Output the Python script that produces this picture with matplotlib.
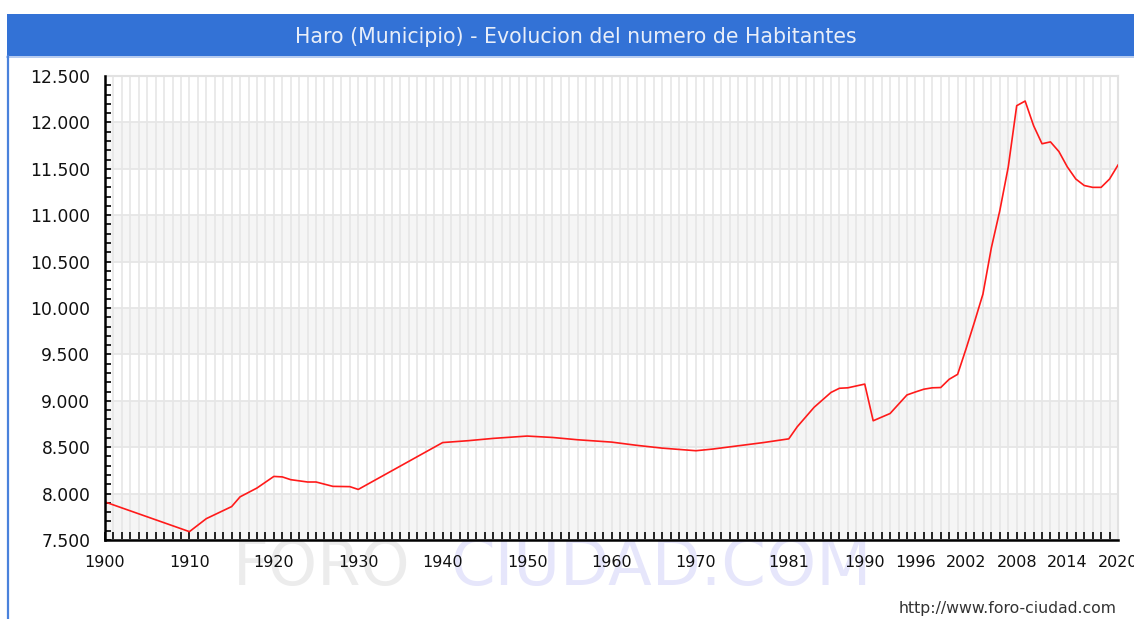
import matplotlib
matplotlib.use("Agg")
import matplotlib.pyplot as plt
import numpy as np
from matplotlib.patches import Rectangle
from matplotlib.lines import Line2D
from matplotlib.ticker import FuncFormatter, MultipleLocator

# Population of Haro
years = [1900, 1910, 1912, 1915, 1916, 1918, 1920, 1921, 1922, 1924, 1925, 1927,
         1929, 1930, 1940, 1943, 1946, 1950, 1953, 1956, 1960, 1963, 1966, 1970,
         1972, 1975, 1978, 1981, 1982, 1984, 1986, 1987, 1988, 1990, 1991, 1993,
         1995, 1996, 1997, 1998, 1999, 2000, 2001, 2002, 2003, 2004, 2005, 2006,
         2007, 2008, 2009, 2010, 2011, 2012, 2013, 2014, 2015, 2016, 2017, 2018,
         2019, 2020]
habitantes = [7910, 7590, 7730, 7860, 7965, 8060, 8185, 8180, 8150, 8125, 8125, 8078,
              8075, 8045, 8550, 8570, 8595, 8620, 8605, 8580, 8555, 8520, 8490, 8462,
              8480, 8515, 8550, 8590, 8720, 8930, 9090, 9135, 9140, 9180, 8785, 8863,
              9063, 9095, 9125, 9140, 9143, 9232, 9285, 9560, 9850, 10150, 10650, 11050,
              11520, 12180, 12230, 11965, 11770, 11790, 11686, 11520, 11390, 11320, 11300, 11300,
              11390, 11540]

tick_years = [1900, 1910, 1920, 1930, 1940, 1950, 1960, 1970, 1981, 1990, 1996, 2002, 2008, 2014, 2020]
titulo = "Haro (Municipio) - Evolucion del numero de Habitantes"

W, H = 1134, 619
fig = plt.figure(figsize=(W / 100, H / 100), dpi=100)
fig.patch.set_facecolor("white")

# blue header bar
fig.patches.append(Rectangle((7 / W, (H - 56) / H), 1 - 7 / W, 42 / H,
                             transform=fig.transFigure, facecolor="#3372d6",
                             edgecolor="none", zorder=0))
fig.lines.append(Line2D([7 / W, 1], [(H - 56.5) / H] * 2, transform=fig.transFigure,
                        color="#a9c2ee", lw=1.2))
fig.lines.append(Line2D([7.5 / W] * 2, [0, (H - 56) / H], transform=fig.transFigure,
                        color="#4a82dc", lw=1.6))
fig.text(576 / W, (H - 37) / H, titulo, ha="center", va="center",
         fontsize=14.8, color="#e8eef9", family="DejaVu Sans")

ax = fig.add_axes([105 / W, (H - 540) / H, (1118 - 105) / W, (540 - 76) / H])
ax.set_facecolor("white")

# alternating bands
for y0 in np.arange(7500, 12500, 1000):
    ax.axhspan(y0, y0 + 500, color="#f5f5f5", zorder=0, lw=0)

ax.plot(years, habitantes, color="#ff1a1a", lw=1.2, zorder=3)

ax.set_xlim(1900, 2020)
ax.set_ylim(7500, 12500)
ax.set_xticks(tick_years)
ax.set_xticklabels([str(y) for y in tick_years])
ax.xaxis.set_minor_locator(MultipleLocator(1))
ax.yaxis.set_major_locator(MultipleLocator(500))
ax.yaxis.set_minor_locator(MultipleLocator(100))
ax.yaxis.set_major_formatter(FuncFormatter(lambda v, p: f"{v:,.0f}".replace(",", ".")))

ax.grid(True, which="major", axis="y", color="#e6e6e6", lw=1.3, zorder=1)
ax.grid(True, which="minor", axis="x", color="#e6e6e6", lw=1.2, zorder=1)
ax.grid(True, which="major", axis="x", color="#e6e6e6", lw=1.2, zorder=1)
ax.set_axisbelow(True)

ax.tick_params(axis="x", which="both", direction="in", length=5.5, width=1.2,
               color="black", labelsize=11.5, pad=10.5)
ax.tick_params(axis="y", which="both", direction="in", length=4.5, width=1.2,
               color="black", labelsize=12.3, pad=10.5)
for lab in ax.get_xticklabels() + ax.get_yticklabels():
    lab.set_color("#111111")

for s in ["left", "bottom"]:
    ax.spines[s].set_color("black")
    ax.spines[s].set_linewidth(1.8)
    ax.spines[s].set_zorder(4)
for s in ["top", "right"]:
    ax.spines[s].set_color("#e2e2e2")
    ax.spines[s].set_linewidth(1.5)

# watermark
fig.text(233 / W, (H - 585) / H, "FORO", fontsize=45, color="#ececec",
         ha="left", va="baseline", zorder=-1)
fig.text(450 / W, (H - 585) / H, "CIUDAD.COM", fontsize=46, color="#e6e6fb",
         ha="left", va="baseline", zorder=-1)

fig.text(1117 / W, (H - 613) / H, "http://www.foro-ciudad.com", fontsize=11.3,
         color="#333333", ha="right", va="baseline")

fig.savefig("out.png", dpi=100)
